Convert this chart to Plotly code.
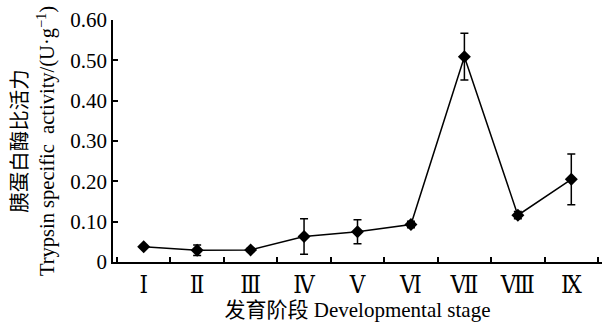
import plotly.graph_objects as go

# Trypsin specific activity across developmental stages (mean ± SD)
stages = ["Ⅰ", "Ⅱ", "Ⅲ", "Ⅳ", "Ⅴ", "Ⅵ", "Ⅶ", "Ⅷ", "Ⅸ"]
activity = [0.038, 0.029, 0.030, 0.063, 0.075, 0.093, 0.509, 0.116, 0.205]
activity_sd = [0.003, 0.013, 0.004, 0.044, 0.030, 0.008, 0.058, 0.009, 0.063]

y_tick_vals = [0, 0.1, 0.2, 0.3, 0.4, 0.5, 0.6]
y_tick_text = ["0", "0.10", "0.20", "0.30", "0.40", "0.50", "0.60"]

FONT = "Liberation Serif, Times New Roman, Noto Sans CJK SC, serif"
ROMAN_FONT = "DejaVu Serif Condensed, DejaVu Serif, serif"

fig = go.Figure(
    go.Scatter(
        x=stages,
        y=activity,
        mode="lines+markers",
        line=dict(color="black", width=1.5),
        marker=dict(symbol="diamond", size=10, color="black"),
        error_y=dict(type="data", array=activity_sd, visible=True,
                     color="black", thickness=1.5, width=4),
        showlegend=False,
    )
)

fig.update_layout(
    width=609,
    height=322,
    margin=dict(l=113, r=7, t=20, b=60),
    paper_bgcolor="white",
    plot_bgcolor="white",
    font=dict(family=FONT, size=21, color="black"),
    xaxis=dict(
        type="category",
        automargin=False,
        showline=True, linecolor="black", linewidth=1.5,
        ticks="inside", tickson="boundaries", ticklen=5,
        tickcolor="black", tickwidth=1.5,
        showgrid=False, zeroline=False,
        tickfont=dict(family=ROMAN_FONT, size=24),
        title=dict(text="发育阶段 Developmental stage", standoff=9,
                   font=dict(size=21)),
    ),
    yaxis=dict(
        range=[0, 0.6],
        automargin=False,
        tickvals=y_tick_vals, ticktext=y_tick_text,
        showline=True, linecolor="black", linewidth=1.5,
        ticks="inside", ticklen=5, tickcolor="black", tickwidth=1.5,
        showgrid=False, zeroline=False,
        tickfont=dict(size=21),
        title=dict(text="胰蛋白酶比活力<br>Trypsin specific  activity/(U·g<sup>−1</sup>)",
                   standoff=10, font=dict(size=20.5)),
    ),
)

fig.write_html("out.html")
